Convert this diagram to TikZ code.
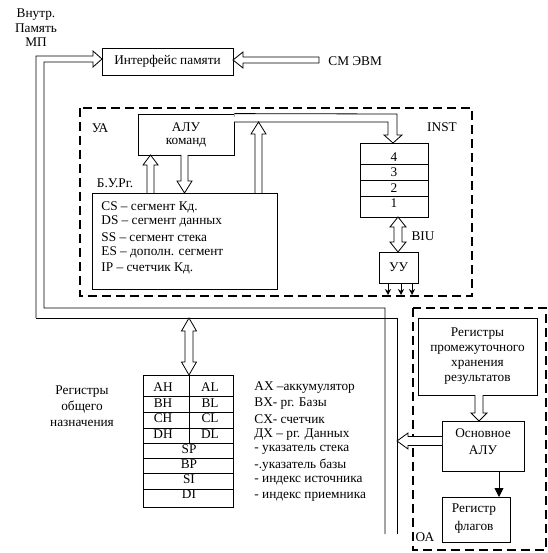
\documentclass[tikz,border=0pt]{standalone}
\usepackage{fontspec}
\setmainfont{Liberation Serif}
\usetikzlibrary{arrows.meta,calc}
\begin{document}
\begin{tikzpicture}[x=1pt,y=-1pt,
  font=\fontsize{13.3}{15.5}\selectfont,
  line width=0.8pt,
  box/.style={draw, inner sep=0pt, align=center},
  blk/.style={draw, fill=white, line width=0.8pt, line join=miter},
  bus/.style={draw, line width=0.8pt, line join=miter},
  dbox/.style={draw, line width=1.8pt, dash pattern=on 9pt off 5pt},
  lbl/.style={inner sep=0pt, align=center},
  lft/.style={inner sep=0pt, anchor=west},
  tip/.style={-{Stealth[length=6pt,width=6pt]}},
  ftip/.style={-{Triangle[length=9pt,width=9pt]}}]
\useasboundingbox (0,0) rectangle (547,553);

% dashed groups
\draw[dbox] (80,108) rectangle (472,296);
\draw[dbox] (413,308) rectangle (546,550);

% boxes
\node[box, minimum width=131pt, minimum height=27pt] (mem) at (167.5,61.5) {Интерфейс памяти};
\node[box, minimum width=96pt, minimum height=41pt] (alu) at (186,134.5) {};
\node[box, minimum width=185pt, minimum height=96pt] (bur) at (184.5,241) {};
\node[box, minimum width=68pt, minimum height=74pt] (stk) at (394,180) {};
\node[box, minimum width=39pt, minimum height=31pt] (uu) at (398.5,267.5) {УУ};
\node[box, minimum width=90pt, minimum height=132pt] (gp) at (188,441) {};
\node[box, minimum width=119pt, minimum height=77pt, font=\fontsize{13.3}{15}\selectfont] (pr) at (477.5,356.5) {Регистры\\промежуточного\\хранения\\результатов};
\node[box, minimum width=82pt, minimum height=50pt] (malu) at (483,446) {};
\node[box, minimum width=68pt, minimum height=45pt] (flg) at (476,519.5) {};

% stack rows
\foreach \yy in {164,180,196} \draw (360,\yy) -- (428,\yy);
% general registers rows
\foreach \yy in {396,412,428,443,458,473,489} \draw (143,\yy) -- (233,\yy);
\draw (189,375) -- (189,443);

% main bus (left/bottom) with arrow into memory interface
\draw[bus] (36,318) -- (36,56) -- (93,56) -- (93,51) -- (102,59) -- (93,67) -- (93,62) -- (44,62) -- (44,308) -- (385,308) -- (385,534);
\draw[bus] (36,318) -- (397,318) -- (397,534);
% arrow from СМ ЭВМ
\draw[blk] (319,57) -- (243,57) -- (243,52) -- (233,60) -- (243,68) -- (243,63) -- (319,63) -- cycle;

% ALU -> instruction queue bus
\draw[blk] (alu.north east) -- (397,114) -- (397,135) -- (402,135) -- (393,143) -- (384,135) -- (388,135) -- (388,122) -- (234,122);
% regs -> bus (up)
\draw[blk] (255,193) -- (255,134) -- (251,134) -- (258.5,122) -- (266,134) -- (262,134) -- (262,193);
% regs <-> ALU
\draw[blk] (147,193) -- (147,165) -- (143,165) -- (150.5,155) -- (158,165) -- (154,165) -- (154,193);
\draw[blk] (181,155) -- (181,181) -- (177,181) -- (184.5,193) -- (192,181) -- (188,181) -- (188,155);
% queue <-> УУ
\draw[blk] (398,217) -- (406,227) -- (402,227) -- (402,242) -- (406,242) -- (398,252) -- (390,242) -- (394,242) -- (394,227) -- (390,227) -- cycle;
% bus <-> general registers
\draw[blk] (189,318) -- (196.5,331) -- (193,331) -- (193,362) -- (196.5,362) -- (189,375) -- (181.5,362) -- (185,362) -- (185,331) -- (181.5,331) -- cycle;
% УУ outputs
\draw[tip] (388,283) -- (388,295);
\draw[tip] (401,283) -- (401,295);
\draw[tip] (412,283) -- (412,295);
% OA arrows
\draw[blk] (475,395) -- (475,413) -- (471,413) -- (479,421) -- (487,413) -- (483,413) -- (483,395);
\draw[blk] (442,436.5) -- (408,436.5) -- (408,433) -- (397,441) -- (408,449) -- (408,445.5) -- (442,445.5);
\draw[ftip] (499,471) -- (499,497);

% labels
\node[lbl, font=\fontsize{13.3}{14.5}\selectfont] (vn) at (36,28) {Внутр.\\Память\\МП};
\node[lft] (smtxt) at (328,61) {СМ ЭВМ};
\node[lbl] (ua) at (100,128) {УА};
\node[lbl] (alut) at (186,127) {АЛУ};
\node[lbl] (alut2) at (186,143) {команд};
\node[lbl] (bu) at (115,183) {Б.У.Рг.};
\node[lbl] (inst) at (442,127) {INST};
\node[lbl] (q4) at (394,157) {4};
\node[lbl] (q3) at (394,172) {3};
\node[lbl] (q2) at (394,188) {2};
\node[lbl] (q1) at (394,203) {1};
\node[lbl] (biu) at (423,236) {BIU};
\node[lft] (r1) at (101,207) {CS – сегмент Кд.};
\node[lft] (r2) at (101,221.5) {DS – сегмент данных};
\node[lft] (r3) at (101,237) {SS – сегмент стека};
\node[lft] (r4) at (101,252.5) {ES – дополн. сегмент};
\node[lft] (r5) at (101,268) {IP – счетчик Кд.};

\node[lbl, font=\fontsize{13.3}{16}\selectfont] (gpt) at (82,406) {Регистры\\общего\\назначения};
\node[lbl] (ah) at (163,387) {AH};
\node[lbl] (al) at (210,387) {AL};
\node[lbl] (bh) at (163,403) {BH};
\node[lbl] (bl) at (210,403) {BL};
\node[lbl] (ch) at (163,418) {CH};
\node[lbl] (cl) at (210,418) {CL};
\node[lbl] (dh) at (163,434) {DH};
\node[lbl] (dl) at (210,434) {DL};
\node[lbl] (sp) at (189,449) {SP};
\node[lbl] (bp) at (189,464) {BP};
\node[lbl] (si) at (189,479) {SI};
\node[lbl] (di) at (189,494) {DI};

\node[lft] (d1) at (254,388) {AX –аккумулятор};
\node[lft] (d2) at (254,403.5) {BX- рг. Базы};
\node[lft] (d3) at (254,419) {CX- счетчик};
\node[lft] (d4) at (254,434.5) {ДХ – рг. Данных};
\node[lft] (d5) at (254,450) {- указатель стека};
\node[lft] (d6) at (254,465.5) {-.указатель базы};
\node[lft] (d7) at (254,481) {- индекс источника};
\node[lft] (d8) at (254,496.5) {- индекс приемника};

\node[lbl] (ma1) at (483,433) {Основное};
\node[lbl] (ma2) at (483,450) {АЛУ};
\node[lbl] (fl1) at (474,510) {Регистр};
\node[lbl] (fl2) at (474,527) {флагов};
\node[lbl] (oa) at (425,537) {ОА};
\end{tikzpicture}
\end{document}
